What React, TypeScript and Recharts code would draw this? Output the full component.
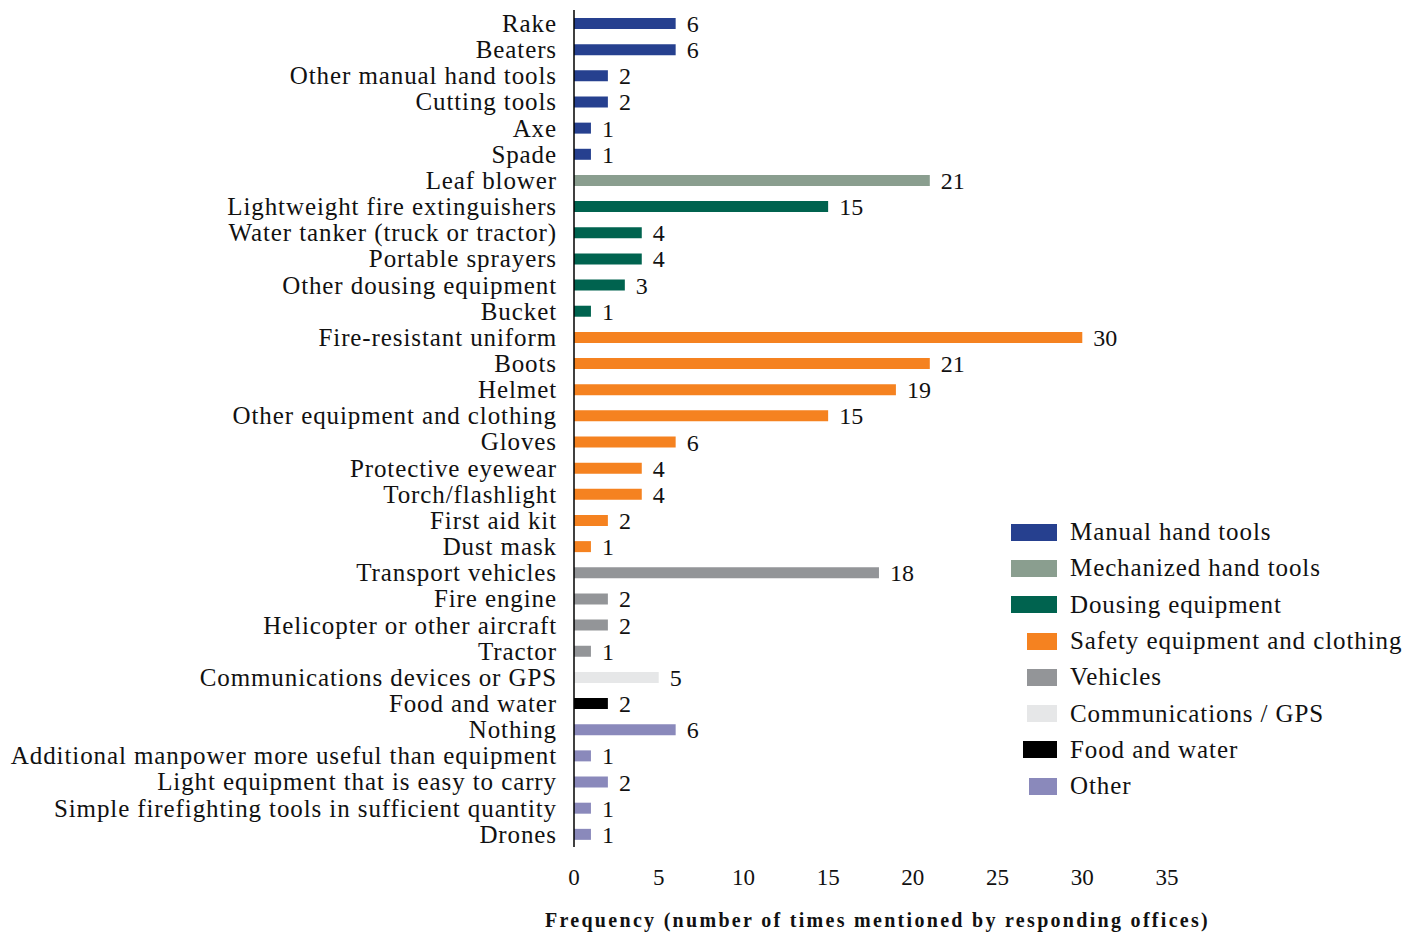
import React from 'react';
import { BarChart, Bar, XAxis, YAxis, Cell, LabelList, Label } from 'recharts';

const categories = [
  'Rake',
  'Beaters',
  'Other manual hand tools',
  'Cutting tools',
  'Axe',
  'Spade',
  'Leaf blower',
  'Lightweight fire extinguishers',
  'Water tanker (truck or tractor)',
  'Portable sprayers',
  'Other dousing equipment',
  'Bucket',
  'Fire-resistant uniform',
  'Boots',
  'Helmet',
  'Other equipment and clothing',
  'Gloves',
  'Protective eyewear',
  'Torch/flashlight',
  'First aid kit',
  'Dust mask',
  'Transport vehicles',
  'Fire engine',
  'Helicopter or other aircraft',
  'Tractor',
  'Communications devices or GPS',
  'Food and water',
  'Nothing',
  'Additional manpower more useful than equipment',
  'Light equipment that is easy to carry',
  'Simple firefighting tools in sufficient quantity',
  'Drones',
];

const values = [6, 6, 2, 2, 1, 1, 21, 15, 4, 4, 3, 1, 30, 21, 19, 15, 6, 4, 4, 2, 1, 18, 2, 2, 1, 5, 2, 6, 1, 2, 1, 1];

// group index per category
const groupOf = [0, 0, 0, 0, 0, 0, 1, 2, 2, 2, 2, 2, 3, 3, 3, 3, 3, 3, 3, 3, 3, 4, 4, 4, 4, 5, 6, 7, 7, 7, 7, 7];

const groups = [
  'Manual hand tools',
  'Mechanized hand tools',
  'Dousing equipment',
  'Safety equipment and clothing',
  'Vehicles',
  'Communications / GPS',
  'Food and water',
  'Other',
];

const groupColors = ['#26408f', '#8a9e8f', '#00634f', '#f58220', '#939598', '#e6e7e8', '#000000', '#8a89bb'];

const xTicks = [0, 5, 10, 15, 20, 25, 30, 35];

const FONT = '"Liberation Serif", "DejaVu Serif", serif';

const data = categories.map((name, i) => ({ name, value: values[i], group: groupOf[i] }));

const legendBoxW = [46, 46, 46, 30, 30, 30, 34, 28];

function GroupLegend() {
  return (
    <div
      style={{
        position: 'absolute',
        left: 1011,
        top: 514,
        fontFamily: FONT,
        fontSize: 25,
        letterSpacing: 0.9,
        color: '#111',
      }}
    >
      {groups.map((g, i) => (
        <div key={g} style={{ display: 'flex', alignItems: 'center', height: 36.3, whiteSpace: 'nowrap' }}>
          <div style={{ width: 46, display: 'flex', justifyContent: 'flex-end' }}>
            <div style={{ width: legendBoxW[i], height: 17, background: groupColors[i] }} />
          </div>
          <span style={{ marginLeft: 13 }}>{g}</span>
        </div>
      ))}
    </div>
  );
}

export default function App() {
  return (
    <div style={{ position: 'absolute', left: 0, top: 0, width: 1414, height: 934, background: '#fff' }}>
      <BarChart
        width={1414}
        height={934}
        data={data}
        layout="vertical"
        margin={{ top: 10, right: 247, bottom: 57, left: 0 }}
      >
        <XAxis
          type="number"
          domain={[0, 35]}
          ticks={xTicks}
          axisLine={false}
          tickLine={false}
          tickSize={0}
          tickMargin={22}
          tick={{ fill: '#111', fontSize: 23, fontFamily: FONT }}
          height={30}
        >
          <Label
            value="Frequency (number of times mentioned by responding offices)"
            position="bottom"
            offset={36}
            dx={7}
            style={{ fill: '#111', fontSize: 20, fontWeight: 'bold', fontFamily: FONT, letterSpacing: 2.3 }}
          />
        </XAxis>
        <YAxis
          type="category"
          dataKey="name"
          width={574}
          interval={0}
          tickLine={false}
          tickSize={0}
          tickMargin={17}
          axisLine={{ stroke: '#000', strokeWidth: 1.5 }}
          tick={{ fill: '#111', fontSize: 25, fontFamily: FONT, letterSpacing: 0.9 }}
        />
        <Bar dataKey="value" barSize={11} isAnimationActive={false}>
          {data.map((d, i) => (
            <Cell key={`cell-${i}`} fill={groupColors[d.group]} />
          ))}
          <LabelList
            dataKey="value"
            position="right"
            offset={11}
            style={{ fill: '#111', fontSize: 24, fontFamily: FONT }}
          />
        </Bar>
      </BarChart>
      <GroupLegend />
    </div>
  );
}
